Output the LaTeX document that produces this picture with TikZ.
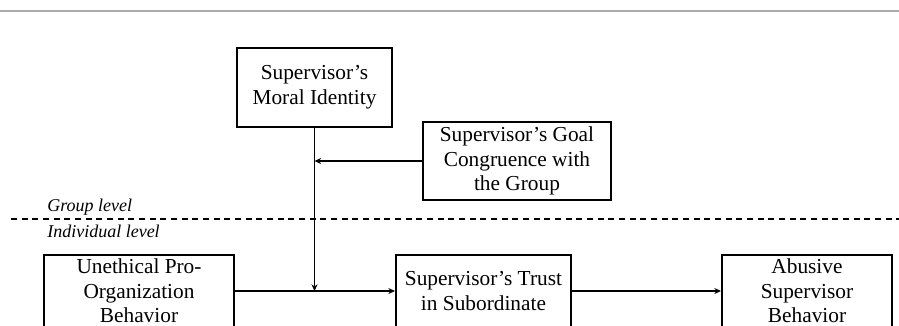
\documentclass[tikz,border=0pt]{standalone}
\usepackage{fontspec}
\setmainfont{Liberation Serif}
\usetikzlibrary{arrows.meta}
\begin{document}
\begin{tikzpicture}[x=0.75pt,y=-0.75pt, every node/.style={font=\fontsize{16}{18.5}\selectfont},
  mybox/.style={draw,line width=1.5pt,align=center,inner sep=0pt},
  myarr/.style={line width=1pt,-{Stealth[length=5pt,width=4.5pt]}},
  lvl/.style={font=\fontsize{13.5}{15}\selectfont\itshape,anchor=base west,inner sep=0pt}]
\useasboundingbox (0,0) rectangle (899,325);
\draw[line width=1.5pt,black!33] (0,11) -- (899,11);
\node[mybox,minimum width=155*0.75pt,minimum height=79*0.75pt] (moral) at (314.5,87.5) {Supervisor's\\Moral Identity};
\node[mybox,minimum width=188*0.75pt,minimum height=78*0.75pt] (goal) at (517,161) {Supervisor's Goal\\Congruence with\\the Group};
\node[mybox,minimum width=190*0.75pt,minimum height=72*0.75pt] (upb) at (139,291) {Unethical Pro-\\Organization\\Behavior};
\node[mybox,minimum width=175*0.75pt,minimum height=72*0.75pt] (trust) at (483.5,291) {Supervisor's Trust\\in Subordinate};
\node[mybox,minimum width=170*0.75pt,minimum height=72*0.75pt] (abuse) at (807,291) {Abusive\\Supervisor\\Behavior};
% levels
\draw[line width=1pt,dash pattern=on 4.5pt off 3.5pt] (11,219) -- (899,219);
\node[lvl] (grp) at (47,211) {Group level};
\node[lvl] (ind) at (47,237) {Individual level};
% paths
\coordinate (mod) at (moral.south |- upb.east);
\coordinate (mod2) at (moral.south |- goal.west);
\draw[myarr] (upb) -- (trust);
\draw[myarr] (trust) -- (abuse);
\draw[myarr] (moral) -- (mod);
\draw[myarr] (goal) -- (mod2);
\end{tikzpicture}
\end{document}
